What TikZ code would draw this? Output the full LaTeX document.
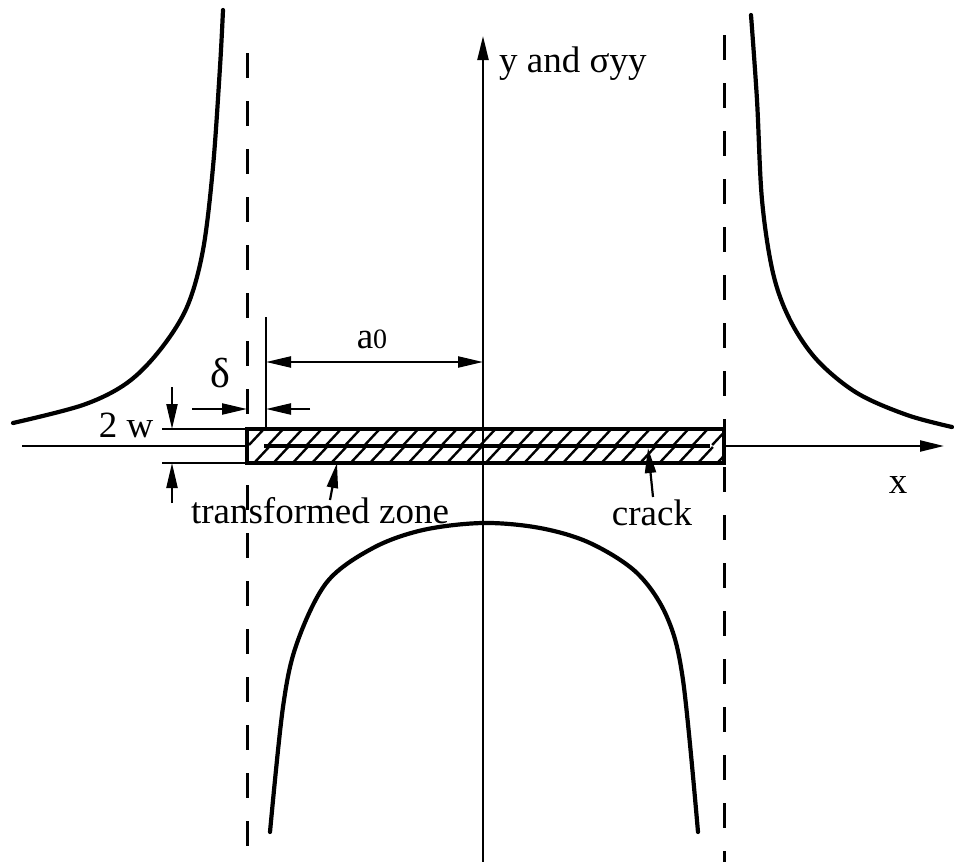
\documentclass[tikz,border=0pt]{standalone}
\usepackage{fontspec}
\setmainfont{Liberation Serif}
\usetikzlibrary{arrows.meta}
\begin{document}
\begin{tikzpicture}[x=1pt,y=-1pt,
  curve/.style={line width=4.2pt, line join=round, line cap=round},
  axisline/.style={line width=2.3pt},
  axisarrow/.style={line width=2.3pt, -{Triangle[length=24pt,width=11pt]}},
  dimline/.style={line width=2.2pt},
  dimarrow/.style={line width=2.2pt, -{Triangle[length=25pt,width=11pt]}},
  dimboth/.style={line width=2.2pt, {Triangle[length=25pt,width=11pt]}-{Triangle[length=25pt,width=11pt]}},
  asym/.style={line width=3pt, dash pattern=on 25pt off 23pt},
  hatchline/.style={line width=2.4pt},
  lbl/.style={font=\fontsize{37}{44}\selectfont, inner sep=0pt}]
\useasboundingbox (0,0) rectangle (954,862);

% asymptotes (dashed)
\coordinate (lat) at (247,53);  \coordinate (lab) at (247,862);
\coordinate (rat) at (724,35);  \coordinate (rab) at (724,862);
\draw[asym] (lat) -- (lab);
\draw[asym] (rat) -- (rab);

% transformed zone rectangle
\node[draw, line width=3.2pt, minimum width=477pt, minimum height=34pt, inner sep=0pt, outer sep=0pt, anchor=north west] (zone) at (247,429) {};
\coordinate (znw) at (247,429); \coordinate (zsw) at (247,463);
\coordinate (zw) at (247,446); \coordinate (ze) at (724,446);
\begin{scope}
  \clip (zone.north west) rectangle (zone.south east);
  \foreach \i in {0,...,25}{
    \pgfmathsetmacro{\xa}{249+19.3*\i}
    \draw[hatchline] (\xa,445) -- ({\xa+14},430);
    \draw[hatchline] ({\xa+6},462) -- ({\xa+20},447);
  }
\end{scope}
% crack
\coordinate (cl) at (264,446); \coordinate (cr) at (710,446);
\draw[line width=4pt] (cl) -- (cr);

% axes
\coordinate (xs) at (22,446); \coordinate (xe) at (944,446);
\draw[axisline] (xs) -- (zw);
\draw[axisarrow] (ze) -- (xe);
\coordinate (yb) at (483,862); \coordinate (yt) at (483,36);
\draw[axisarrow] (yb) -- (yt);

% stress curves
\draw[curve] plot[smooth, tension=0.55] coordinates {(223,10) (220,67) (213,167) (203,250) (187,307) (160,350) (127,383) (83,405) (13,423)};
\draw[curve] plot[smooth, tension=0.55] coordinates {(751,15) (757,100) (762,200) (773,273) (790,320) (817,360) (857,393) (907,415) (952,427)};
\draw[curve] plot[smooth, tension=0.55] coordinates {(270,832) (283,707) (297,643) (327,582) (373,548) (423,530) (483,523) (540,528) (590,543) (637,573) (667,617) (683,680) (698,832)};

% crack-tip extension line and a0 dimension
\coordinate (tt) at (266,317); \coordinate (tb) at (266,428);
\draw[dimline] (tt) -- (tb);
\coordinate (al) at (266,362); \coordinate (ar) at (483,362);
\draw[dimboth] (al) -- (ar);
\node[lbl, anchor=base] (a0) at (372,348) {a{\fontsize{28}{30}\selectfont 0}};

% delta dimension
\coordinate (dl0) at (192,409); \coordinate (dl1) at (247,409);
\coordinate (dr0) at (310,409); \coordinate (dr1) at (266,409);
\draw[dimarrow] (dl0) -- (dl1);
\draw[dimarrow] (dr0) -- (dr1);
\node[lbl, anchor=base, font=\fontsize{42}{46}\selectfont] (delta) at (220,387) {δ};

% 2w dimension
\coordinate (wt0) at (162,429); \coordinate (wb0) at (162,463);
\draw[dimline] (wt0) -- (znw);
\draw[dimline] (wb0) -- (zsw);
\coordinate (wa0) at (172,387); \coordinate (wa1) at (172,429);
\coordinate (wc0) at (172,503); \coordinate (wc1) at (172,463);
\draw[dimarrow] (wa0) -- (wa1);
\draw[dimarrow] (wc0) -- (wc1);
\node[lbl, anchor=base] (tw) at (126,437) {2 w};

% labels and leaders
\node[lbl, anchor=base west] (ylab) at (499,72) {y and σyy};
\node[lbl, anchor=base] (xlab) at (898,493) {x};
\node[lbl, anchor=base] (tz) at (320,523) {transformed zone};
\node[lbl, anchor=base] (ck) at (652,525) {crack};
\coordinate (tzt) at (330,500); \coordinate (tzh) at (337,463);
\draw[dimarrow] (tzt) -- (tzh);
\coordinate (ckt) at (653,497); \coordinate (ckh) at (648,448);
\draw[dimarrow] (ckt) -- (ckh);
\end{tikzpicture}
\end{document}
